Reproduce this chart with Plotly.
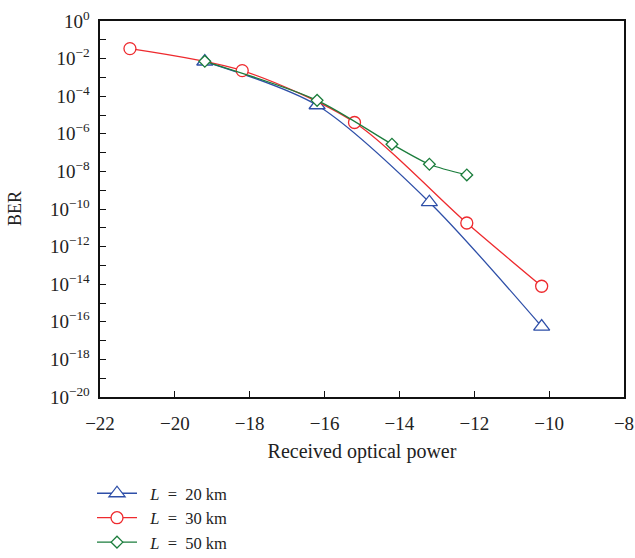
import plotly.graph_objects as go

# Data (x: received optical power, y: BER)
x_20 = [-19.2, -16.2, -13.2, -10.2]
ber_20 = [7.0e-3, 3.3e-5, 2.3e-10, 5.6e-17]

x_30 = [-21.2, -18.2, -15.2, -12.2, -10.2]
ber_30 = [3.4e-2, 2.3e-3, 4.0e-6, 1.8e-11, 7.8e-15]

x_50 = [-19.2, -16.2, -14.2, -13.2, -12.2]
ber_50 = [7.2e-3, 6.0e-5, 2.8e-7, 2.4e-8, 6.5e-9]

names = ["\u00a0\u00a0<i>L</i>\u00a0\u00a0=\u00a0\u00a020 km",
         "\u00a0\u00a0<i>L</i>\u00a0\u00a0=\u00a0\u00a030 km",
         "\u00a0\u00a0<i>L</i>\u00a0\u00a0=\u00a0\u00a050 km"]
colors = ["#2e4fa8", "#ee2a2e", "#1b7d3c"]
symbols = ["triangle-up", "circle", "diamond"]
sizes = [14, 12, 9]

x_ticks = [-22, -20, -18, -16, -14, -12, -10, -8]
x_ticktext = ["\u221222", "\u221220", "\u221218", "\u221216", "\u221214", "\u221212", "\u221210", "\u22128"]
y_exps = list(range(0, -21, -1))
y_tickvals = [10.0 ** e for e in y_exps]
y_ticktext = [("10<sup>%s</sup>\u00a0" % (str(e).replace("-", "\u2212")) if e % 2 == 0 else "") for e in y_exps]

fig = go.Figure()
for xs, ys, nm, c, s, sz in zip([x_20, x_30, x_50], [ber_20, ber_30, ber_50], names, colors, symbols, sizes):
    fig.add_trace(go.Scatter(
        x=xs, y=ys, name=nm, mode="lines+markers",
        line=dict(color=c, width=1.3, shape="spline", smoothing=0.8),
        marker=dict(symbol=s, size=sz, color="white", line=dict(color=c, width=1.3)),
    ))

font_family = "Liberation Serif, DejaVu Serif, serif"
fig.update_layout(
    width=635, height=558,
    margin=dict(l=100, r=11, t=21, b=161, autoexpand=False),
    paper_bgcolor="white", plot_bgcolor="white",
    font=dict(family=font_family, size=18, color="#222"),
    showlegend=True,
    legend=dict(xref="container", yref="container", x=92 / 635, y=1 - 476 / 558,
                xanchor="left", yanchor="top",
                font=dict(family=font_family, size=16.5, color="#222"),
                bgcolor="rgba(0,0,0,0)", tracegroupgap=0, itemwidth=40),
    xaxis=dict(range=[-22, -8], tickvals=x_ticks, ticktext=x_ticktext,
               ticks="inside", ticklen=6, tickcolor="#111", showgrid=False, zeroline=False,
               showline=True, linecolor="#111", linewidth=1.5, mirror=True,
               ticklabelstandoff=8,
               title=dict(text="Received optical power", font=dict(size=20), standoff=11),
               tickfont=dict(size=19)),
    yaxis=dict(type="log", range=[-20, 0], tickvals=y_tickvals, ticktext=y_ticktext,
               ticks="inside", ticklen=6, tickcolor="#111", showgrid=False, zeroline=False,
               showline=True, linecolor="#111", linewidth=1.5, mirror=True,
               tickfont=dict(size=19)),
    annotations=[dict(text="BER", xref="paper", yref="paper", x=(15 - 100) / 524, y=0.5,
                      xanchor="center", yanchor="middle", textangle=-90, showarrow=False,
                      font=dict(family=font_family, size=18, color="#222"))],
)

fig.write_html("out.html", config={"displayModeBar": False},
               post_script="document.body.style.margin='0';")
